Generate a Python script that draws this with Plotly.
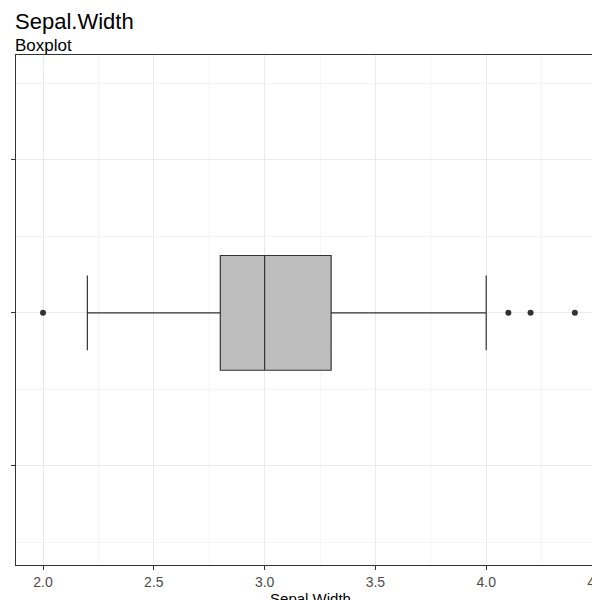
import plotly.graph_objects as go

# five-number summary
q1 = [2.8]
median = [3.0]
q3 = [3.3]
lowerfence = [2.2]
upperfence = [4.0]
outliers = [2.0, 4.1, 4.2, 4.4]
xticks = [2.0, 2.5, 3.0, 3.5, 4.0, 4.5]

fig = go.Figure()
fig.add_trace(go.Box(y=[0], q1=q1, median=median, q3=q3, lowerfence=lowerfence,
                     upperfence=upperfence, orientation='h', width=0.3, whiskerwidth=0.65,
                     fillcolor='#bebebe', line=dict(color='#333333', width=1.2),
                     boxpoints=False, showlegend=False, hoverinfo='skip'))
fig.add_trace(go.Scatter(x=outliers, y=[0] * len(outliers), mode='markers',
                         marker=dict(color='#333333', size=6), showlegend=False))

fig.update_layout(
    width=600, height=600, plot_bgcolor='white', paper_bgcolor='white',
    margin=dict(l=8, r=3, t=47, b=43),
    font=dict(family='Liberation Sans, Arial', color='#4d4d4d'),
    annotations=[
        dict(text='Sepal.Width', x=0, y=1, xref='paper', yref='paper', xanchor='left',
             yanchor='bottom', showarrow=False, font=dict(size=22, color='black'),
             xshift=-3, yshift=19),
        dict(text='Boxplot', x=0, y=1, xref='paper', yref='paper', xanchor='left',
             yanchor='bottom', showarrow=False, font=dict(size=17, color='black'),
             xshift=-3, yshift=-2),
    ],
)
fig.update_xaxes(range=[1.878, 4.536], tickvals=xticks, ticktext=[f'{v:.1f}' for v in xticks],
                 showgrid=True, gridcolor='#ebebeb', minor=dict(dtick=0.25, showgrid=True, gridcolor='#f5f5f5'),
                 ticks='outside', ticklen=4, tickcolor='#333333', tickfont=dict(size=14, color='#4d4d4d'),
                 showline=True, linecolor='#333333', mirror=True, zeroline=False, automargin=False,
                 title=dict(text='Sepal.Width', font=dict(size=15, color='black'), standoff=2))
fig.update_yaxes(range=[-0.659, 0.674], tickvals=[-0.4, 0, 0.4], showticklabels=False,
                 showgrid=True, gridcolor='#ebebeb', automargin=False,
                 minor=dict(tickvals=[-0.6, -0.2, 0.2, 0.6], showgrid=True, gridcolor='#f5f5f5'),
                 ticks='outside', ticklen=4, tickcolor='#333333',
                 showline=True, linecolor='#333333', mirror=True, zeroline=False)

fig.write_html('out.html')
